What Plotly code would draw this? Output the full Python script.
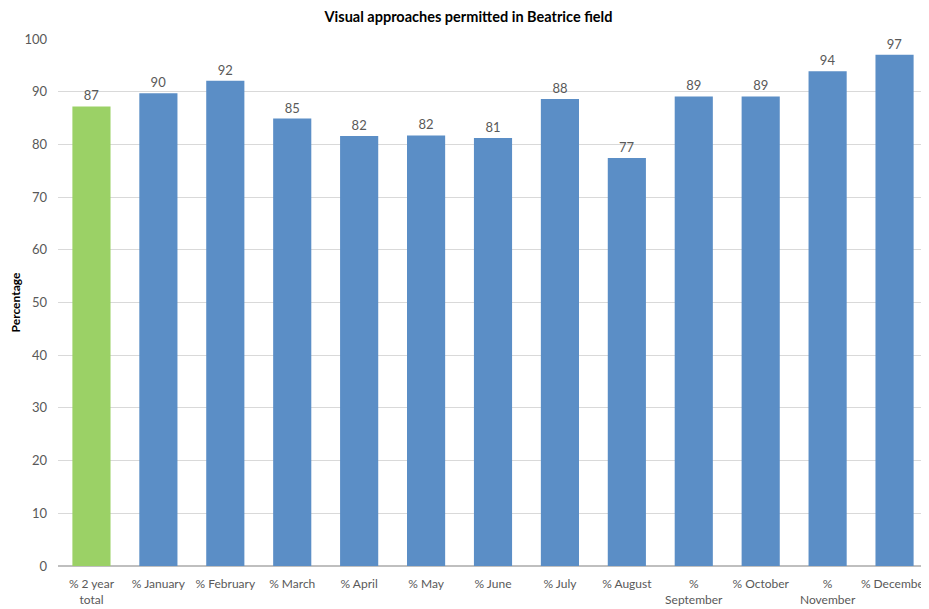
import plotly.graph_objects as go

categories = ["% 2 year<br>total", "% January", "% February", "% March", "% April", "% May",
              "% June", "% July", "% August", "%<br>September", "% October", "%<br>November", "% December"]
values = [87.2, 89.7, 92.1, 84.9, 81.6, 81.7, 81.2, 88.6, 77.4, 89.1, 89.1, 93.9, 97.0]
labels = ["87", "90", "92", "85", "82", "82", "81", "88", "77", "89", "89", "94", "97"]
colors = ["#9BD166"] + ["#5B8EC6"] * 12

FONT = "Lato, Liberation Sans, sans-serif"

fig = go.Figure(go.Bar(
    x=categories, y=values, text=labels, textposition="outside",
    textfont=dict(family=FONT, size=13, color="#595959"),
    marker=dict(color=colors, line=dict(width=0)),
    cliponaxis=False, width=0.57,
))

# page body has an 8px margin, so the figure is sized to fit the 929x609 window
fig.update_layout(
    width=921, height=601,
    margin=dict(l=50, r=1, t=31, b=43),
    paper_bgcolor="white", plot_bgcolor="white",
    title=dict(text="<b>Visual approaches permitted in Beatrice field</b>", x=0.5, xanchor="center",
               y=1 - 9/601, yanchor="middle", font=dict(family=FONT, size=14.5, color="#000000")),
    font=dict(family=FONT, size=13, color="#595959"),
    showlegend=False,
)
fig.update_yaxes(range=[0, 100], dtick=10, showgrid=True, gridcolor="#D9D9D9", gridwidth=1,
                 zeroline=True, zerolinecolor="#BFBFBF", ticks="", ticklabelstandoff=10,
                 tickfont=dict(family=FONT, size=13, color="#595959"),
                 title=dict(text="<b>Percentage</b>", font=dict(family=FONT, size=12, color="#000000"), standoff=16),
                 automargin=False)
fig.update_xaxes(showline=False, ticks="", tickfont=dict(family=FONT, size=12, color="#595959"),
                 ticklabelstandoff=9, automargin=False, tickangle=0)

fig.write_html("out.html")
